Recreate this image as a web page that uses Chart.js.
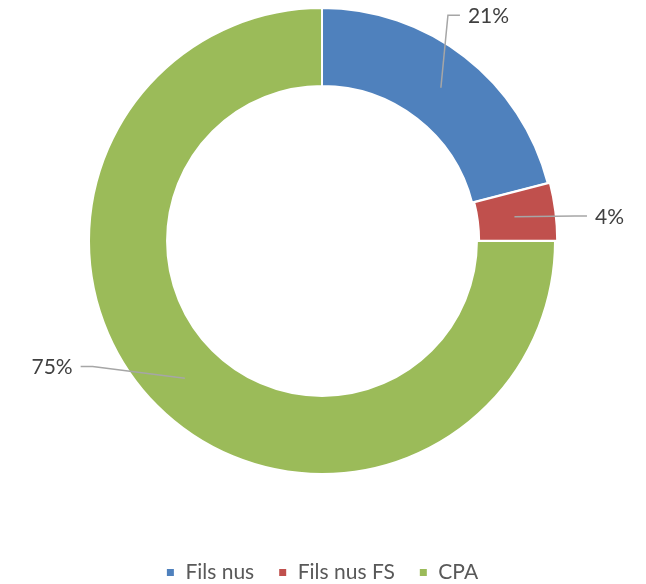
<!DOCTYPE html>
<html>
<head>
<meta charset="utf-8">
<script src="https://cdn.jsdelivr.net/npm/chart.js@4.4.0/dist/chart.umd.min.js"></script>
<style>
html, body { margin: 0; padding: 0; background: #fff; }
#wrap { width: 646px; height: 584px; }
</style>
</head>
<body>
<div id="wrap"><canvas id="myDonut"></canvas></div>
<script>
const categories = ['Fils nus', 'Fils nus FS', 'CPA'];
const shares = [21, 4, 75];
const shareLabels = ['21%', '4%', '75%'];
const sliceColors = ['#4F81BD', '#C0504D', '#9BBB59'];

// where the percent labels sit: shift from slice middle (deg) and distance in radii
const labelShift = [-4.8, 2.2, 18.1];
const labelDist = [1.15, 1.176, 1.20];

const leaderLabels = {
    id: 'leaderLabels',
    afterDatasetsDraw(chart) {
        const ctx = chart.ctx;
        const arcs = chart.getDatasetMeta(0).data;
        ctx.save();
        ctx.font = '21px Lato';
        ctx.textBaseline = 'middle';
        arcs.forEach(function (arc, i) {
            const p = arc.getProps(['x', 'y', 'startAngle', 'endAngle', 'innerRadius', 'outerRadius'], true);
            const mid = (p.startAngle + p.endAngle) / 2;
            const rMid = (p.innerRadius + p.outerRadius) / 2;
            const ax = p.x + Math.cos(mid) * rMid;
            const ay = p.y + Math.sin(mid) * rMid;
            const la = mid + labelShift[i] * Math.PI / 180;
            const tx = p.x + Math.cos(la) * p.outerRadius * labelDist[i];
            const ty = p.y + Math.sin(la) * p.outerRadius * labelDist[i];
            const dir = tx > p.x ? 1 : -1;
            const endX = tx - dir * 8;
            const elbowX = endX - dir * 12;

            ctx.strokeStyle = '#A6A6A6';
            ctx.lineWidth = 1.5;
            ctx.beginPath();
            ctx.moveTo(ax, ay);
            ctx.lineTo(elbowX, ty - 1);
            ctx.lineTo(endX, ty - 1);
            ctx.stroke();

            ctx.fillStyle = '#404040';
            ctx.textAlign = dir > 0 ? 'left' : 'right';
            ctx.fillText(shareLabels[i], tx, ty);
        });
        ctx.restore();
    }
};

const ctx = document.getElementById('myDonut').getContext('2d');
new Chart(ctx, {
    type: 'doughnut',
    data: {
        labels: categories,
        datasets: [
            {
                data: shares,
                backgroundColor: sliceColors,
                borderColor: '#ffffff',
                borderWidth: 2,
                offset: [0, 5, 0],
                hoverOffset: 0
            }
        ]
    },
    options: {
        responsive: true,
        maintainAspectRatio: false,
        animation: false,
        cutout: '66.5%',
        radius: 233,
        layout: {
            padding: { top: 0, bottom: -9, right: 2, left: 0 }
        },
        plugins: {
            legend: {
                position: 'bottom',
                title: {
                    display: true,
                    text: '',
                    font: { size: 1, lineHeight: 1 },
                    padding: { top: 55, bottom: 0 }
                },
                labels: {
                    boxWidth: 9,
                    boxHeight: 9,
                    padding: 24,
                    color: '#595959',
                    font: { family: 'Lato', size: 21 }
                }
            },
            tooltip: { enabled: false }
        }
    },
    plugins: [leaderLabels]
});
</script>
</body>
</html>
